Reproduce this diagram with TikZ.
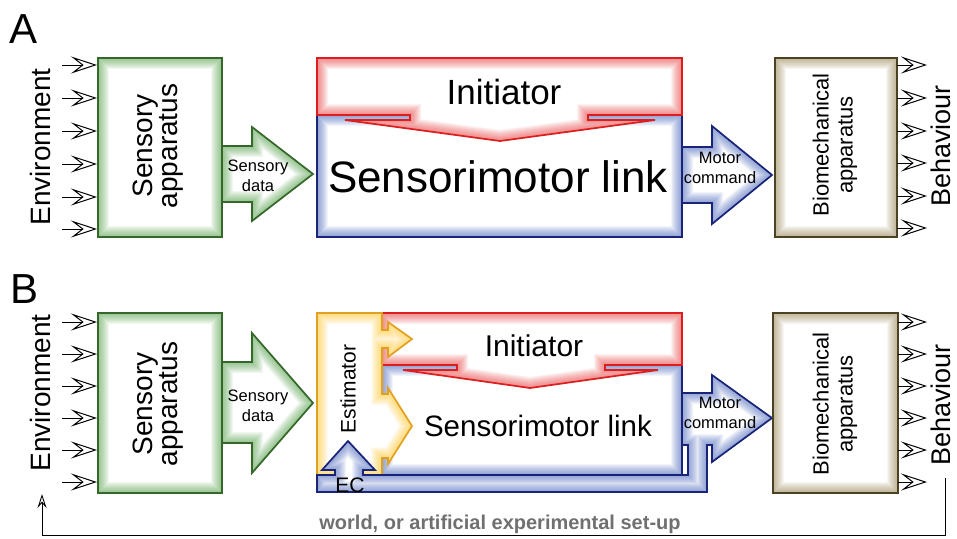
\documentclass[tikz,border=0pt]{standalone}
\usepackage{fontspec}
\setmainfont{Liberation Sans}
\usetikzlibrary{arrows.meta}
\definecolor{grB}{RGB}{52,104,40}
\definecolor{grG}{RGB}{80,160,70}
\definecolor{rdB}{RGB}{220,30,30}
\definecolor{rdG}{RGB}{235,60,60}
\definecolor{blB}{RGB}{25,35,120}
\definecolor{blG}{RGB}{70,100,190}
\definecolor{orB}{RGB}{225,160,30}
\definecolor{orG}{RGB}{255,200,40}
\definecolor{brB}{RGB}{75,65,35}
\definecolor{brG}{RGB}{150,130,80}
\definecolor{wgray}{RGB}{112,112,112}
\newcommand\glowshape[3]{%
  \fill[white] #3;
  \begin{scope}
    \clip #3;
    \foreach \w in {2,4,...,22} {\draw[#2, line width=\w pt, opacity=0.07] #3;}
  \end{scope}
  \draw[#1, line width=1.7pt, line join=miter] #3;
}
\tikzset{
  inarrow/.style={line width=1pt, -{Stealth[open,length=26pt,width=17pt,inset=11pt]}},
  fbline/.style={line width=0.9pt},
  lbl/.style={inner sep=0pt, align=center},
}
\begin{document}
\begin{tikzpicture}[x=1pt,y=-1pt]
\useasboundingbox (0,0) rectangle (957,538);
\fill[white] (0,0) rectangle (957,538);

% ---------------- Panel A ----------------
\node[anchor=base west, inner sep=0pt, font=\fontsize{42}{42}\selectfont] (labA) at (9,43) {A};
\node[rotate=90, anchor=base, inner sep=0pt, font=\fontsize{28}{28}\selectfont] (envA) at (50,147) {Environment};
\foreach \y in {65,98,131,164,197,229} \draw[inarrow] (62,\y) -- (97,\y);

\glowshape{grB}{grG}{(98,58) rectangle (222,237)}
\node[lbl, rotate=90, font=\fontsize{28}{25}\selectfont] (sensA) at (158,146) {Sensory\\apparatus};

\glowshape{grB}{grG}{(222,146) -- (252,146) -- (252,127) -- (313,174) -- (252,221) -- (252,202) -- (222,202) -- cycle}
\node[lbl, font=\fontsize{16.5}{20}\selectfont] (sdA) at (258,176) {Sensory\\data};

\glowshape{blB}{blG}{(317,115) rectangle (682,237)}
\glowshape{rdB}{rdG}{(317,58) -- (682,58) -- (682,115) -- (588,115) -- (588,120) -- (655,120) -- (500,141) -- (345,120) -- (410,120) -- (410,115) -- (317,115) -- cycle}
\node[lbl, font=\fontsize{35}{35}\selectfont] (iniA) at (504,92) {Initiator};
\node[lbl, font=\fontsize{44}{44}\selectfont] (smA) at (498,177) {Sensorimotor link};

\glowshape{blB}{blG}{(682,147) -- (712,147) -- (712,126) -- (772,175) -- (712,224) -- (712,203) -- (682,203) -- cycle}
\node[lbl, font=\fontsize{16.5}{20}\selectfont] (mcA) at (720,168) {Motor\\command};

\glowshape{brB}{brG}{(775,58) rectangle (897,237)}
\node[lbl, rotate=90, font=\fontsize{22}{24}\selectfont] (bioA) at (835,145) {Biomechanical\\apparatus};
\foreach \y in {65,98,131,163,196,228} \draw[inarrow] (897,\y) -- (927,\y);
\node[rotate=90, anchor=base, inner sep=0pt, font=\fontsize{27}{27}\selectfont] (behA) at (950,146) {Behaviour};

% ---------------- Panel B ----------------
\node[anchor=base west, inner sep=0pt, font=\fontsize{42}{42}\selectfont] (labB) at (10,303) {B};
\node[rotate=90, anchor=base, inner sep=0pt, font=\fontsize{28}{28}\selectfont] (envB) at (50,393) {Environment};
\foreach \y in {322,354,386,418,450,482} \draw[inarrow] (62,\y) -- (97,\y);

\glowshape{grB}{grG}{(98,313) rectangle (222,493)}
\node[lbl, rotate=90, font=\fontsize{28}{25}\selectfont] (sensB) at (158,404) {Sensory\\apparatus};

\glowshape{grB}{grG}{(222,362) -- (252,362) -- (252,333) -- (313,403) -- (252,473) -- (252,443) -- (222,443) -- cycle}
\node[lbl, font=\fontsize{16.5}{20}\selectfont] (sdB) at (258,406) {Sensory\\data};

% sensorimotor link box
\glowshape{blB}{blG}{(382,365) rectangle (682,475)}
% initiator
\glowshape{rdB}{rdG}{(382,313) -- (682,313) -- (682,365) -- (605,365) -- (605,370) -- (658,370) -- (530,388) -- (403,370) -- (457,370) -- (457,365) -- (382,365) -- cycle}
\node[lbl, font=\fontsize{30}{30}\selectfont] (iniB) at (534,346) {Initiator};
\node[lbl, font=\fontsize{29.5}{30}\selectfont] (smB) at (538,426) {Sensorimotor link};
% estimator
\glowshape{orB}{orG}{(317,313) -- (382,313) -- (382,330) -- (388,330) -- (388,322) -- (412,339) -- (388,357) -- (388,348) -- (382,348) -- (382,394) -- (388,394) -- (388,388) -- (412,426) -- (388,464) -- (388,458) -- (382,458) -- (382,475) -- (317,475) -- cycle}
\node[lbl, rotate=90, font=\fontsize{21}{21}\selectfont] (estB) at (348,389) {Estimator};
% motor command + efference copy channel + EC arrow
\glowshape{blB}{blG}{(682,393) -- (712,393) -- (712,375) -- (772,418) -- (712,462) -- (712,445) -- (707,445) -- (707,492) -- (317,492) -- (317,475) -- (335,475) -- (335,470) -- (322,470) -- (348,441) -- (375,470) -- (363,470) -- (363,475) -- (688,475) -- (688,445) -- (682,445) -- cycle}
\node[lbl, font=\fontsize{21}{21}\selectfont] (ecB) at (350,485) {EC};
\node[lbl, font=\fontsize{16.5}{20}\selectfont] (mcB) at (720,413) {Motor\\command};

\glowshape{brB}{brG}{(773,313) rectangle (898,493)}
\node[lbl, rotate=90, font=\fontsize{22}{24}\selectfont] (bioB) at (835,404) {Biomechanical\\apparatus};
\foreach \y in {322,354,386,418,450,482} \draw[inarrow] (898,\y) -- (927,\y);
\node[rotate=90, anchor=base, inner sep=0pt, font=\fontsize{27}{27}\selectfont] (behB) at (950,405) {Behaviour};

% feedback loop through the world
\coordinate (fbS) at (945,478);
\coordinate (fbR) at (945,535);
\coordinate (fbL) at (42,535);
\coordinate (fbE) at (42,494);
\draw[fbline, -{Stealth[open,length=14pt,width=9pt,inset=5pt]}] (fbS) -- (fbR) -- (fbL) -- (fbE);
\node[inner sep=0pt, text=wgray, font=\bfseries\fontsize{20}{20}\selectfont] (world) at (500,524) {world, or artificial experimental set-up};
\end{tikzpicture}
\end{document}
